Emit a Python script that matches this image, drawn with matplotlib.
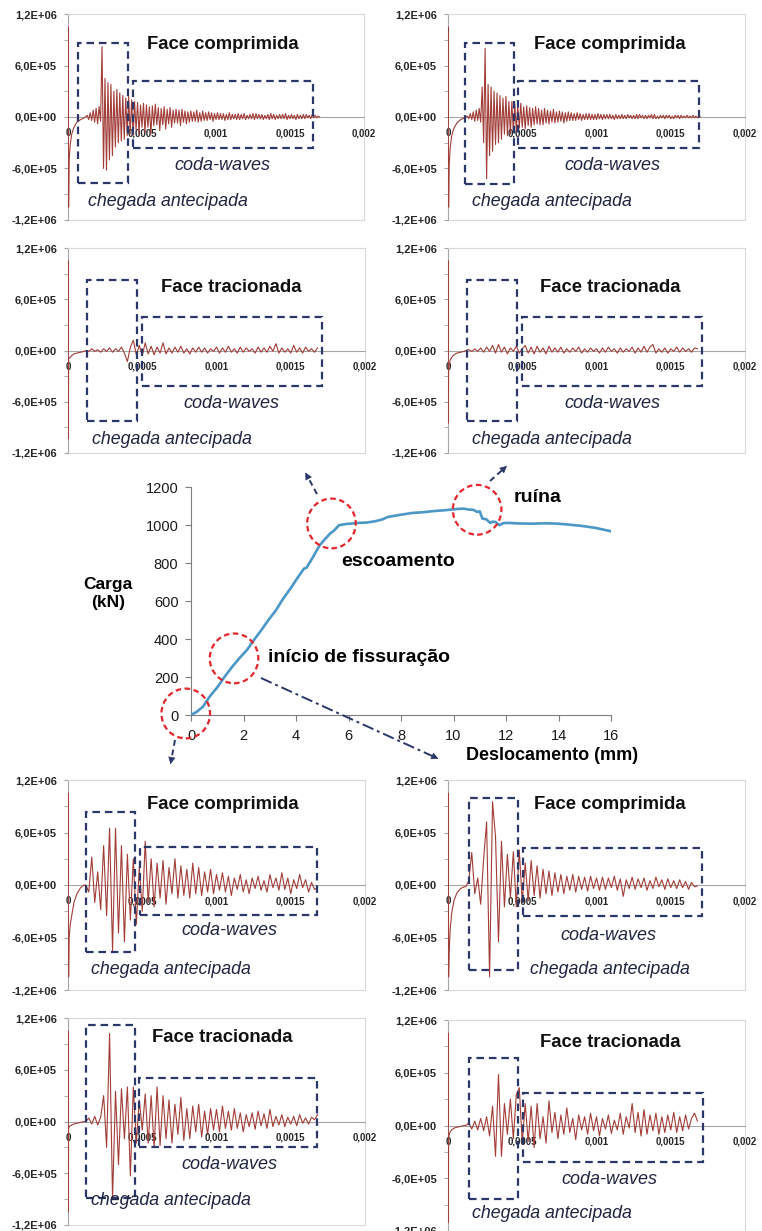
import numpy as np
import matplotlib.pyplot as plt
from matplotlib.patches import Rectangle, Ellipse, FancyArrowPatch
from matplotlib.lines import Line2D

plt.rcParams['font.family'] = ['Liberation Sans', 'DejaVu Sans']

W, H = 762, 1231

# ---- curva carga x deslocamento ----
desloc = [0, 0.2, 0.46, 0.7, 1.02, 1.3, 1.57, 1.85, 2.13, 2.4, 2.68, 2.95, 3.24, 3.5, 3.79,
          4.05, 4.3, 4.4, 4.6, 4.9, 5.1, 5.3, 5.46, 5.64, 5.9, 6.38, 6.7, 7.03, 7.3, 7.49,
          7.9, 8.4, 8.9, 9.3, 9.7, 10.1, 10.4, 10.6, 10.75, 10.9, 11.0, 11.1, 11.25, 11.4,
          11.5, 11.6, 11.75, 11.9, 12.1, 12.5, 13.0, 13.5, 13.97, 14.4, 14.9, 15.4, 16.0]
carga = [0, 15, 44, 95, 149, 205, 254, 300, 342, 395, 447, 500, 552, 610, 666,
         720, 770, 775, 820, 893, 925, 955, 972, 999, 1005, 1011, 1013, 1020, 1030, 1042,
         1052, 1063, 1068, 1074, 1078, 1084, 1086, 1081, 1080, 1069, 1072, 1034, 1030, 1011,
         1018, 1016, 999, 1010, 1011, 1008, 1007, 1009, 1007, 1002, 995, 985, 967]

# pontos destacados (deslocamento, carga)
destaques = [(-0.2, 8), (1.64, 298), (5.35, 1008), (10.9, 1080)]

# ---- sinais (amplitude em unidades de 1e4) ----
# trecho inicial (instantes em microssegundos)
t_inicio_us = [0, 1, 2, 4, 8, 15, 25, 40, 60, 85, 110]

ini_comp_esc = [0, 105, 22, -105, -50, -32, -20, -12, -6, -3, -1]
ini_comp_rui = [0, 105, 10, -105, -55, -35, -22, -13, -7, -3, -1]
ini_trac_esc = [0, 105, -103, -10, -9, -8, -6, -4, -3, -2, -1]
ini_trac_rui = [0, 105, -85, -25, -16, -11, -8, -5, -3, -2, -1]
ini_comp_ori = [0, 105, -20, -105, -60, -45, -35, -20, -10, -3, 0]
ini_comp_fis = [0, 105, 50, -105, -75, -50, -32, -18, -9, -4, -2]
ini_trac_ori = [0, 105, -105, -8, -6, -5, -4, -3, -2, -1, 0]
ini_trac_fis = [0, 105, -110, -14, -10, -7, -5, -3, -2, -1, 0]

# amostras a partir de 130 us, passo 10 us
sinal_comp_esc = [2, -3, 5, -4, 8, -6, 10, -8, 12, -5,
                  82, -60, 45, -62, 40, -50, 38, -45, 30, -35,
                  32, -30, 28, -28, 25, -26, 22, -22, 24, -20,
                  20, -22, 18, -15, 17, -20, 14, -12, 16, -18,
                  14, -12, 12, -20, 13, -10, 15, -9, 11, -16,
                  10, -9, 12, -14, 9, -8, 11, -12, 8, -7,
                  9, -7, 8, -10, 9, -6, 7, -8, 6, -6,
                  7, -5, 6, -5, 8, -6, 5, -5, 7, -4,
                  5, -4, 6, -3, 5, -5, 4, -3, 5, -3,
                  4, -3, 4, -4, 3, -3, 5, -3, 3, -2,
                  3, -3, 4, -3, 3, -2, 4, -3, 2, -2,
                  3, -2, 4, -3, 4, -2, 3, -2, 3, -3,
                  2, -2, 3, -3, 4, -2, 3, -3, 2, -2,
                  3, -2, 3, -2, 4, -3, 2, -2, 3, -2,
                  2, -3, 3, -2, 2, -2, 3, -2, 3, -1,
                  2, -2, 3, -1, 2, -1, 1, 0]
sinal_comp_rui = [1, -2, 4, -3, 6, -5, 8, -4, 10, -6,
                  35, -30, 80, -72, 38, -45, 35, -40, 30, -32,
                  28, -30, 25, -26, 22, -20, 24, -22, 18, -20,
                  18, -18, 15, -16, 14, -13, 16, -12, 12, -14,
                  13, -10, 11, -12, 10, -9, 12, -8, 10, -9,
                  8, -9, 10, -7, 8, -8, 7, -6, 9, -7,
                  6, -6, 7, -5, 6, -7, 5, -5, 6, -4,
                  5, -4, 4, -4, 5, -3, 4, -4, 3, -3,
                  4, -3, 4, -3, 3, -3, 3, -3, 4, -2,
                  3, -3, 3, -2, 3, -2, 3, -2, 2, -3,
                  3, -2, 2, -2, 3, -2, 2, -2, 3, -1,
                  2, -2, 2, -2, 3, -2, 3, -1, 2, -2,
                  2, -2, 2, -1, 3, -2, 3, -2, 1, -2,
                  2, -1, 2, -2, 2, -1, 2, -2, 1, -2,
                  2, -1, 2, -2, 2, -1, 1, -1, 2, -1,
                  1, -1, 2, -1, 1, -1, 0, 0]

# amostras a partir de 120 us, passo 20 us
sinal_trac_esc = [0, -1, 2, -1, 1, -2, 2, -1, 3, -2,
                  2, -1, 4, -3, -13, 4, 12, -5, 6, -6,
                  9, -4, 5, -5, 4, -3, 9, -4, 3, -3,
                  4, -2, 5, -3, 2, -4, 3, -2, 4, -2,
                  3, -3, 2, -1, 4, -3, 3, -2, 5, -2,
                  2, -3, 4, -2, 3, -1, 2, -3, 4, -2,
                  3, -2, 5, -1, 8, -3, 3, -2, 2, -3,
                  6, -2, 3, -3, 4, -1, 2, -2, 3]
sinal_trac_rui = [0, 1, -1, 2, -1, 3, -2, 4, -1, 6,
                  -3, 7, -2, 4, -4, 3, -1, 5, -3, 2,
                  6, -3, 4, -4, 5, -2, 3, -4, 5, -2,
                  3, -2, 4, -3, 2, -2, 3, -1, 4, -3,
                  2, -2, 3, -1, 2, -3, 3, -2, 4, -1,
                  2, -3, 3, -2, 2, -1, 4, -3, 3, -2,
                  5, -2, 4, 7, -3, 2, -2, 3, -3, 2,
                  -1, 4, -2, 3, -1, 2, -2, 3, 2]
sinal_comp_ori = [0, -8, 32, -20, 15, -28, 45, -35, 65, -75,
                  65, -55, 45, -65, 35, -40, 30, -45, 20, -30,
                  50, -20, 30, -25, 25, -15, 28, -22, 20, -10,
                  30, -15, 22, -12, 18, -15, 25, -10, 20, -12,
                  15, -8, 18, -10, 12, -6, 14, -8, 10, -12,
                  8, -5, 12, -8, 6, -10, 8, -4, 10, -6,
                  5, -8, 12, -3, 8, -6, 14, -5, 8, -10,
                  6, -4, 12, -3, 6, -8, 3, -5, -3]
sinal_comp_fis = [-2, 5, 37, -10, 8, -22, 30, 72, -105, 95,
                  55, -65, 50, -25, 35, -15, 38, -25, 40, -20,
                  25, -18, 28, -12, 22, -15, 18, -10, 16, -12,
                  14, -8, 12, -10, 10, -6, 12, -8, 10, -5,
                  9, -7, 10, -4, 8, -6, 9, -5, 8, -3,
                  10, -6, 7, -13, 6, -4, 9, -5, 7, -3,
                  8, -6, 5, -4, 9, -2, 6, -5, 7, -3,
                  5, -4, 6, -3, 4, -5, 3, -2, -1]
sinal_trac_ori = [0, 4, -3, 6, -4, 5, 30, -30, 102, -90,
                  35, -50, 38, -20, 40, -63, 40, -25, 25, -10,
                  32, -25, 30, -30, 40, -28, 30, -20, 25, -25,
                  20, -15, 28, -22, 15, -20, 18, -12, 20, -18,
                  12, -15, 15, -10, 14, -12, 18, -8, 12, -10,
                  15, -8, 10, -12, 8, -6, 10, -9, 12, -5,
                  9, -8, 14, -6, 6, -4, 8, -6, 5, -3,
                  6, -5, 8, -2, 4, -3, 5, 2, 8]
sinal_trac_fis = [0, 3, -4, 5, -5, 8, -6, 10, -12, 22,
                  -35, 58, -35, 25, -10, 30, -15, 35, 43, -20,
                  25, -18, 22, -25, 25, -15, 10, -20, 28, -8,
                  15, -15, 12, -10, 20, -8, 8, -16, 12, -5,
                  10, -10, 14, -6, 10, -12, 8, -4, 12, -9,
                  6, -5, 14, -10, 10, -3, 25, -8, 15, -12,
                  18, -10, 12, -6, 14, -10, 10, -8, 12, -5,
                  15, -8, 10, -6, 12, -4, 8, 14, 5]

x_ticks = [0, 0.0005, 0.001, 0.0015, 0.002]
x_ticklabels = ['0', '0,0005', '0,001', '0,0015', '0,002']
y_ticks = [-1.2e6, -6e5, 0, 6e5, 1.2e6]
y_ticklabels = ['-1,2E+06', '-6,0E+05', '0,0E+00', '6,0E+05', '1,2E+06']

COMP, TRAC = 'Face comprimida', 'Face tracionada'

# caixa do grafico em pixels (esq, topo, dir, base), janelas tracejadas e textos em dados
paineis = [
    dict(px=(68, 14, 364, 220), titulo=COMP, ini=ini_comp_esc, sinal=sinal_comp_esc, t0=130, dt=10,
         cx1=(6.8e-5, 4.05e-4, -7.7e5, 8.6e5), cx2=(4.39e-4, 1.655e-3, -3.6e5, 4.2e5),
         pt=(1.047e-3, 8.4e5), pc=(1.04e-3, -5.6e5), pa=(6.76e-4, -9.9e5)),
    dict(px=(448, 14, 745, 220), titulo=COMP, ini=ini_comp_rui, sinal=sinal_comp_rui, t0=130, dt=10,
         cx1=(1.14e-4, 4.44e-4, -7.8e5, 8.6e5), cx2=(4.71e-4, 1.69e-3, -3.6e5, 4.2e5),
         pt=(1.09e-3, 8.4e5), pc=(1.11e-3, -5.6e5), pa=(7.0e-4, -9.9e5)),
    dict(px=(68, 248, 365, 453), titulo=TRAC, ini=ini_trac_esc, sinal=sinal_trac_esc, t0=120, dt=20,
         cx1=(1.28e-4, 4.65e-4, -8.2e5, 8.2e5), cx2=(4.98e-4, 1.71e-3, -4.1e5, 3.9e5),
         pt=(1.10e-3, 7.4e5), pc=(1.10e-3, -6.2e5), pa=(7.0e-4, -1.04e6)),
    dict(px=(448, 248, 745, 453), titulo=TRAC, ini=ini_trac_rui, sinal=sinal_trac_rui, t0=120, dt=20,
         cx1=(1.28e-4, 4.65e-4, -8.2e5, 8.2e5), cx2=(4.98e-4, 1.71e-3, -4.1e5, 3.9e5),
         pt=(1.09e-3, 7.4e5), pc=(1.11e-3, -6.2e5), pa=(7.0e-4, -1.04e6)),
    dict(px=(68, 780, 365, 990), titulo=COMP, ini=ini_comp_ori, sinal=sinal_comp_ori, t0=120, dt=20,
         cx1=(1.21e-4, 4.51e-4, -7.7e5, 8.4e5), cx2=(4.85e-4, 1.68e-3, -3.4e5, 4.3e5),
         pt=(1.04e-3, 9.2e5), pc=(1.09e-3, -5.2e5), pa=(6.9e-4, -9.7e5)),
    dict(px=(448, 780, 745, 990), titulo=COMP, ini=ini_comp_fis, sinal=sinal_comp_fis, t0=120, dt=20,
         cx1=(1.41e-4, 4.71e-4, -9.7e5, 1.0e6), cx2=(5.05e-4, 1.71e-3, -3.5e5, 4.2e5),
         pt=(1.09e-3, 9.2e5), pc=(1.08e-3, -5.8e5), pa=(1.09e-3, -9.7e5)),
    dict(px=(68, 1018, 365, 1225), titulo=TRAC, ini=ini_trac_ori, sinal=sinal_trac_ori, t0=120, dt=20,
         cx1=(1.21e-4, 4.51e-4, -8.9e5, 1.12e6), cx2=(4.78e-4, 1.68e-3, -2.9e5, 5.0e5),
         pt=(1.04e-3, 9.7e5), pc=(1.09e-3, -5.0e5), pa=(6.9e-4, -9.2e5)),
    dict(px=(448, 1020, 745, 1231), titulo=TRAC, ini=ini_trac_fis, sinal=sinal_trac_fis, t0=120, dt=20,
         cx1=(1.41e-4, 4.71e-4, -8.4e5, 7.7e5), cx2=(5.05e-4, 1.72e-3, -4.1e5, 3.7e5),
         pt=(1.09e-3, 9.4e5), pc=(1.09e-3, -6.1e5), pa=(7.0e-4, -1.0e6)),
]

NAVY = '#2b3768'
TRACO = '#a23d38'
CINZA = '#a6a6a6'


def fx(px):
    return px / W


def fy(py):
    return 1 - py / H


fig = plt.figure(figsize=(W / 100, H / 100), dpi=100, facecolor='white')

for p in paineis:
    l, t, r, b = p['px']
    ax = fig.add_axes([fx(l), fy(b), (r - l) / W, (b - t) / H])
    tempo = np.concatenate([np.array(t_inicio_us) * 1e-6,
                            (p['t0'] + p['dt'] * np.arange(len(p['sinal']))) * 1e-6])
    amp = np.concatenate([p['ini'], p['sinal']]) * 1e4
    ax.plot(tempo, amp, color=TRACO, lw=0.8, zorder=3)

    ax.set_xlim(0, 0.002)
    ax.set_ylim(-1.2e6, 1.2e6)
    ax.spines['bottom'].set_position(('data', 0))
    ax.spines['bottom'].set_color(CINZA)
    ax.spines['left'].set_color(CINZA)
    for s in ['top', 'right']:
        ax.spines[s].set_color('#d9d9d9')
    ax.plot([0, 1], [0, 0], transform=ax.transAxes, color='#d9d9d9', lw=0.8, clip_on=False)

    ax.set_xticks(x_ticks)
    ax.set_xticklabels(x_ticklabels)
    ax.set_yticks(y_ticks)
    ax.set_yticklabels(y_ticklabels)
    ax.set_yticks([-9e5, -3e5, 3e5, 9e5], minor=True)
    ax.tick_params(axis='x', length=0, pad=8, labelsize=7, labelcolor='#262626')
    ax.tick_params(axis='y', which='both', length=3, color=CINZA, direction='out',
                   labelsize=8, labelcolor='#262626', pad=5)
    for lab in ax.get_xticklabels() + ax.get_yticklabels():
        lab.set_fontweight('bold')

    for (x1, x2, y1, y2) in (p['cx1'], p['cx2']):
        ax.add_patch(Rectangle((x1, y1), x2 - x1, y2 - y1, fill=False, edgecolor=NAVY,
                               lw=1.6, linestyle=(0, (3.4, 2.2)), zorder=4))

    ax.text(*p['pt'], p['titulo'], ha='center', va='center', fontsize=13.3,
            fontweight='bold', color='#111111', zorder=5)
    ax.text(*p['pc'], 'coda-waves', ha='center', va='center', fontsize=13,
            fontstyle='italic', color='#1f2540', zorder=5)
    ax.text(*p['pa'], 'chegada antecipada', ha='center', va='center', fontsize=12.8,
            fontstyle='italic', color='#1f2540', zorder=5)

# ---- grafico central ----
axm = fig.add_axes([fx(191), fy(715), 420 / W, 228 / H])
axm.plot(desloc, carga, color='#4b97c6', lw=1.9, zorder=3)
axm.set_xlim(0, 16)
axm.set_ylim(0, 1200)
axm.set_xticks(range(0, 17, 2))
axm.set_yticks(range(0, 1201, 200))
for s in ['top', 'right']:
    axm.spines[s].set_visible(False)
for s in ['left', 'bottom']:
    axm.spines[s].set_color('#7f7f7f')
axm.tick_params(length=4, color='#7f7f7f', labelsize=10.5, labelcolor='#1a1a1a')
axm.tick_params(axis='x', pad=6)
axm.tick_params(axis='y', pad=5)
axm.patch.set_alpha(0)

for (xc, yc) in destaques:
    axm.add_patch(Ellipse((xc, yc), 1.85, 262, fill=False, edgecolor='#e3262b', lw=1.6,
                          linestyle=(0, (2.5, 1.6)), clip_on=False, zorder=5))

fig.text(fx(108), fy(594), 'Carga\n(kN)', ha='center', va='center', fontsize=12.5,
         fontweight='bold', linespacing=1.25)
fig.text(fx(552), fy(755), 'Deslocamento (mm)', ha='center', va='center', fontsize=13,
         fontweight='bold')
fig.text(fx(538), fy(497), 'ruína', ha='center', va='center', fontsize=14, fontweight='bold')
fig.text(fx(398), fy(561), 'escoamento', ha='center', va='center', fontsize=14,
         fontweight='bold')
fig.text(fx(359), fy(657), 'início de fissuração', ha='center', va='center', fontsize=14,
         fontweight='bold')

# setas ligando os pontos aos sinais
setas = [((317, 494), (304, 470), (0, (3, 2))),
         ((490, 481), (509, 464), (0, (3, 2))),
         ((175, 740), (170, 767), (0, (3, 2))),
         ((261, 678), (441, 760), (0, (6, 2, 1.5, 2)))]
for (p0, p1, estilo) in setas:
    v = np.array(p1, float) - np.array(p0, float)
    v /= np.hypot(*v)
    base = np.array(p1) - 9 * v
    fig.add_artist(Line2D([fx(p0[0]), fx(base[0])], [fy(p0[1]), fy(base[1])],
                          transform=fig.transFigure, color=NAVY, lw=1.4, linestyle=estilo))
    fig.add_artist(FancyArrowPatch((fx(base[0]), fy(base[1])), (fx(p1[0]), fy(p1[1])),
                                   transform=fig.transFigure, arrowstyle='-|>',
                                   mutation_scale=11, color=NAVY, lw=0.5))

fig.savefig('out.png', dpi=100, facecolor='white')
